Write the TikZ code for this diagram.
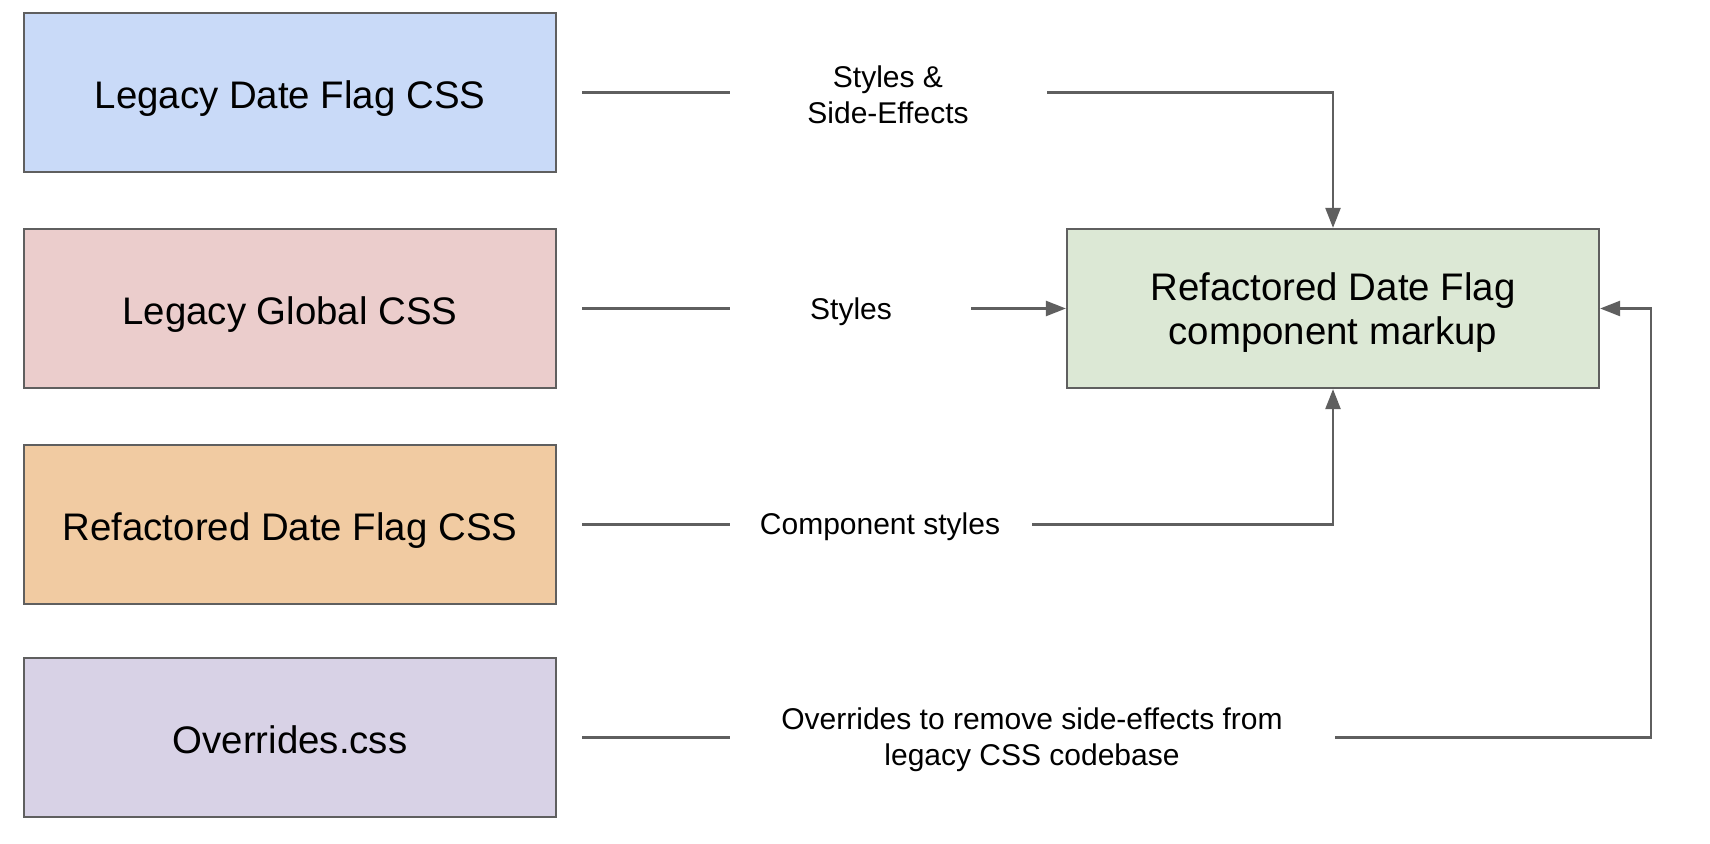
\documentclass[tikz,border=0pt]{standalone}
\usepackage{fontspec}
\setmainfont{Liberation Sans}
\usetikzlibrary{arrows.meta,calc}
\definecolor{lineg}{HTML}{5F5F5F}
\definecolor{cblue}{HTML}{C9DAF8}
\definecolor{cred}{HTML}{EBCDCC}
\definecolor{corange}{HTML}{F1CBA2}
\definecolor{cgreen}{HTML}{DCE8D5}
\definecolor{cpurple}{HTML}{D8D2E6}
\tikzset{
  box/.style={draw=lineg, line width=1.1pt, minimum width=266pt, minimum height=79.5pt, inner sep=0pt, align=center, font=\fontsize{19.2pt}{22pt}\selectfont, text height=16pt, text depth=0pt},
  box2/.style={box, text height=, text depth=-2pt},
  lbl/.style={inner sep=0pt, align=center, font=\fontsize{15pt}{18pt}\selectfont},
  conn/.style={draw=lineg, line width=1.2pt},
  arr/.style={conn, -{Triangle[length=10pt,width=7.5pt]}}
}
\begin{document}
\begin{tikzpicture}[x=0.5pt,y=-0.5pt]
\useasboundingbox (0,0) rectangle (1710,844);
\node[box, fill=cblue] (a) at (290,92.5) {Legacy Date Flag CSS};
\node[box, fill=cred] (b) at (290,308.5) {Legacy Global CSS};
\node[box, fill=corange] (c) at (290,524.5) {Refactored Date Flag CSS};
\node[box, fill=cpurple] (d) at (290,737.5) {Overrides.css};
\node[box2, fill=cgreen] (r) at (1333,308.5) {Refactored Date Flag\\component markup};

\node[lbl] (la) at (888,95) {Styles \&\\Side-Effects};
\node[lbl] (lb) at (851,312) {Styles};
\node[lbl] (lc) at (880,527) {Component styles};
\node[lbl] (ld) at (1032,740) {Overrides to remove side-effects from\\legacy CSS codebase};

% connector 1
\coordinate (a0) at (582,92.5);
\coordinate (a1) at (730,92.5);
\coordinate (a2) at (1047,92.5);
\draw[conn] (a0) -- (a1);
\draw[arr] (a2) -| (r.north);
% connector 2
\coordinate (b0) at (582,308.5);
\coordinate (b1) at (730,308.5);
\coordinate (b2) at (971,308.5);
\draw[conn] (b0) -- (b1);
\draw[arr] (b2) -- (r.west);
% connector 3
\coordinate (c0) at (582,524.5);
\coordinate (c1) at (730,524.5);
\coordinate (c2) at (1032,524.5);
\draw[conn] (c0) -- (c1);
\draw[arr] (c2) -| (r.south);
% connector 4
\coordinate (d0) at (582,737.5);
\coordinate (d1) at (730,737.5);
\coordinate (d2) at (1335,737.5);
\coordinate (d3) at (1651,737.5);
\draw[conn] (d0) -- (d1);
\draw[arr] (d2) -- (d3) |- (r.east);
\end{tikzpicture}
\end{document}
